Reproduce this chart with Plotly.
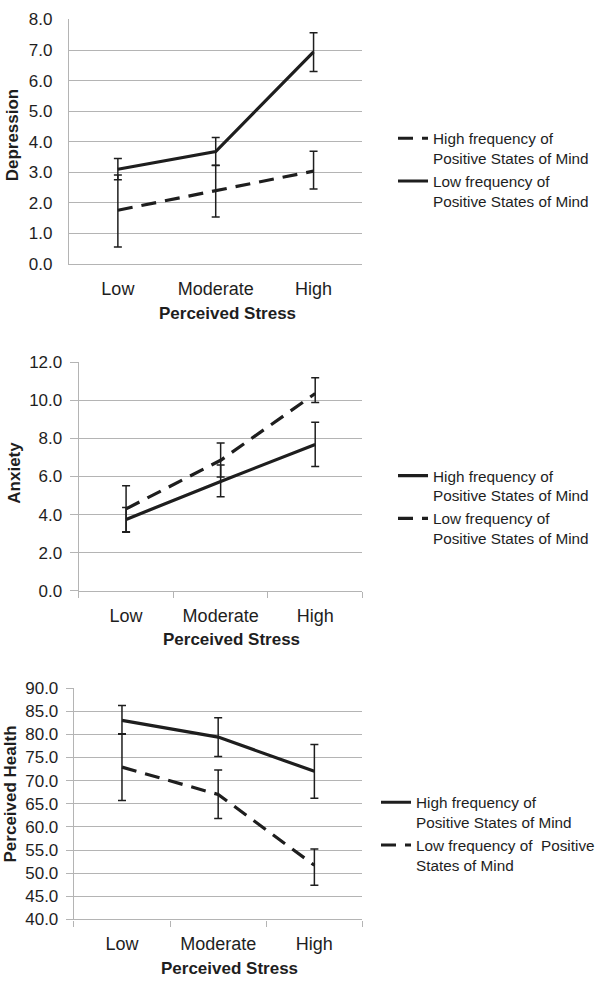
import plotly.graph_objects as go

# ─── Data ───────────────────────────────────────────────────
stress_levels = ["Low", "Moderate", "High"]

# Depression
dep_high_mean = [1.76, 2.40, 3.04]
dep_high_upper = [2.91, 3.23, 3.69]
dep_high_lower = [0.56, 1.54, 2.45]
dep_low_mean = [3.10, 3.68, 6.94]
dep_low_upper = [3.45, 4.14, 7.57]
dep_low_lower = [2.76, 3.22, 6.30]

# Anxiety
anx_high_mean = [3.75, 5.74, 7.68]
anx_high_upper = [4.37, 6.60, 8.85]
anx_high_lower = [3.10, 4.94, 6.52]
anx_low_mean = [4.30, 6.85, 10.35]
anx_low_upper = [5.52, 7.75, 11.18]
anx_low_lower = [3.08, 5.97, 9.88]

# Perceived health
hea_high_mean = [83.0, 79.4, 72.0]
hea_high_upper = [86.2, 83.6, 77.8]
hea_high_lower = [80.0, 75.2, 66.2]
hea_low_mean = [72.9, 67.0, 51.7]
hea_low_upper = [80.1, 72.3, 55.2]
hea_low_lower = [65.7, 61.8, 47.4]

HIGH_LBL = "High frequency of<br>Positive States of Mind"
LOW_LBL = "Low frequency of<br>Positive States of Mind"
LOW_LBL3 = "Low frequency of  Positive<br>States of Mind"

# ─── Style ──────────────────────────────────────────────────
W, H = 600, 989
FONT = "Liberation Sans, Arial, Helvetica, sans-serif"
INK = "#1e1e1e"
GRID = "#b4b4b4"
DASH = "15px,9px"


def px_x(v):
    return v / W


def px_y(v):
    return 1 - v / H


def series(mean, upper, lower, name, dash, xa, ya, legend):
    plus = [u - m for u, m in zip(upper, mean)]
    minus = [m - l for m, l in zip(mean, lower)]
    return go.Scatter(
        x=stress_levels, y=mean, mode="lines", name=name,
        line=dict(color=INK, width=3.2, dash=dash),
        error_y=dict(type="data", symmetric=False, array=plus,
                     arrayminus=minus, color=INK, thickness=1.5, width=4),
        xaxis=xa, yaxis=ya, legend=legend, hoverinfo="skip",
    )


fig = go.Figure()

# ── Panel 1: Depression ─────────────────────────────────────
fig.add_trace(series(dep_high_mean, dep_high_upper, dep_high_lower,
                     HIGH_LBL, DASH, "x", "y", "legend"))
fig.add_trace(series(dep_low_mean, dep_low_upper, dep_low_lower,
                     LOW_LBL, "solid", "x", "y", "legend"))

# ── Panel 2: Anxiety ────────────────────────────────────────
fig.add_trace(series(anx_high_mean, anx_high_upper, anx_high_lower,
                     HIGH_LBL, "solid", "x2", "y2", "legend2"))
fig.add_trace(series(anx_low_mean, anx_low_upper, anx_low_lower,
                     LOW_LBL, DASH, "x2", "y2", "legend2"))

# ── Panel 3: Perceived Health ───────────────────────────────
fig.add_trace(series(hea_high_mean, hea_high_upper, hea_high_lower,
                     HIGH_LBL, "solid", "x3", "y3", "legend3"))
fig.add_trace(series(hea_low_mean, hea_low_upper, hea_low_lower,
                     LOW_LBL3, DASH, "x3", "y3", "legend3"))

# panel boxes in pixels: (left, right, top, bottom), y-range, dtick,
# y ticklen, x ticklen, y label standoff
panels = [
    ((70, 368, 10.7, 260.0), [0, 8], 1, 0, 0, 12),
    ((80, 368, 360.0, 593.3), [0, 12], 2, 8, 6, 4),
    ((75, 368, 692.3, 928.3), [40, 90], 5, 7, 6, 4),
]

layout = {}
for i, ((l, r, t, b), yr, dt, ylen, xlen, ystand) in enumerate(panels):
    sfx = "" if i == 0 else str(i + 1)
    layout["xaxis" + sfx] = dict(
        domain=[px_x(l), px_x(r)], anchor="y" + sfx,
        type="category", categoryorder="array", categoryarray=stress_levels,
        range=[-0.5, 2.5], tickson="boundaries",
        ticks="outside" if xlen else "", ticklen=xlen, tickcolor=GRID,
        tickwidth=1.3, showgrid=False, showline=True, linecolor=GRID,
        linewidth=1.3, ticklabelstandoff=8,
        tickfont=dict(family=FONT, size=18, color=INK),
    )
    layout["yaxis" + sfx] = dict(
        domain=[px_y(b), px_y(t)], anchor="x" + sfx,
        range=yr, dtick=dt, tick0=yr[0], tickformat=".1f",
        showgrid=True, gridcolor=GRID, gridwidth=1.3, zeroline=False,
        showline=True, linecolor=GRID, linewidth=1.3,
        ticks="outside" if ylen else "", ticklen=ylen, tickcolor=GRID,
        tickwidth=1.3, ticklabelstandoff=ystand,
        tickfont=dict(family=FONT, size=17, color=INK),
    )

fig.update_layout(**layout)

# ── Axis titles ─────────────────────────────────────────────
x_titles = [(231, 310.7), (235, 643.3), (233, 978.3)]
y_titles = [("Depression", 13, 128), ("Anxiety", 15, 473),
            ("Perceived Health", 11, 800)]
for cx, cy in x_titles:
    fig.add_annotation(x=px_x(cx), y=px_y(cy), xref="paper", yref="paper",
                       text="<b>Perceived Stress</b>", showarrow=False,
                       xanchor="center", yanchor="middle",
                       font=dict(family=FONT, size=17, color=INK))
for txt, cx, cy in y_titles:
    fig.add_annotation(x=px_x(cx), y=px_y(cy), xref="paper", yref="paper",
                       text=f"<b>{txt}</b>", showarrow=False, textangle=-90,
                       xanchor="center", yanchor="middle",
                       font=dict(family=FONT, size=17, color=INK))

# ── Legends ─────────────────────────────────────────────────
leg_style = dict(xanchor="left", yanchor="top", valign="top",
                 bgcolor="rgba(0,0,0,0)", borderwidth=0, itemwidth=30,
                 font=dict(family=FONT, size=15.3, color=INK),
                 itemclick=False, itemdoubleclick=False)
fig.update_layout(
    legend=dict(x=px_x(399), y=px_y(115), **leg_style),
    legend2=dict(x=px_x(399), y=px_y(459), **leg_style),
    legend3=dict(x=px_x(382), y=px_y(792), **leg_style),
)

fig.update_layout(
    width=W, height=H,
    margin=dict(l=0, r=0, t=0, b=0),
    paper_bgcolor="white", plot_bgcolor="white",
    font=dict(family=FONT, color=INK),
    showlegend=True,
)

# drop the default 8px page margin so the chart sits at the window origin
fig.write_html("out.html", config={"displayModeBar": False},
               post_script="document.body.style.margin='0';")
